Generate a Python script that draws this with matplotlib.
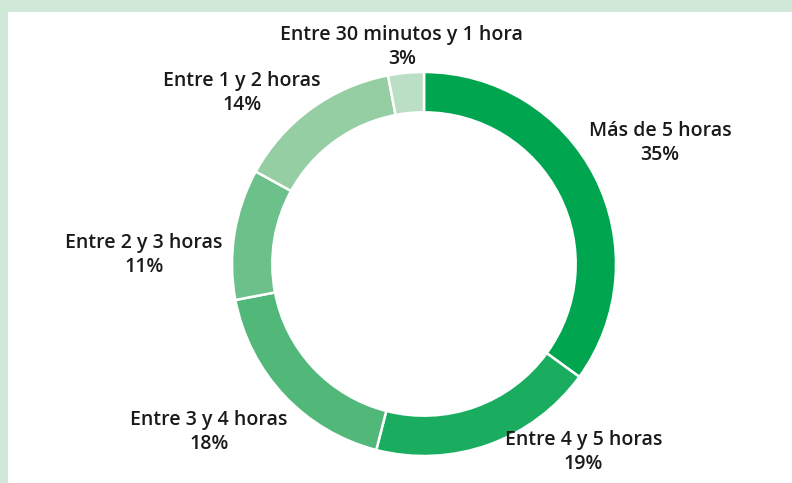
import matplotlib.pyplot as plt
from matplotlib.patches import Rectangle

# data
labels = ["Más de 5 horas", "Entre 4 y 5 horas", "Entre 3 y 4 horas",
          "Entre 2 y 3 horas", "Entre 1 y 2 horas", "Entre 30 minutos y 1 hora"]
values = [35, 19, 18, 11, 14, 3]
colors = ["#00a54f", "#1aad5f", "#52b879", "#6cc089", "#95cea3", "#badfc5"]

# label offsets (in units of the outer radius, from the centre)
label_pos = [(1.23, 0.63), (0.83, -0.98), (-1.12, -0.875),
             (-1.46, 0.047), (-0.95, 0.89), (-0.115, 1.13)]

W, H = 792, 483
fig = plt.figure(figsize=(W / 100, H / 100), dpi=100)
fig.patch.set_facecolor("#d0e8d7")
ax = fig.add_axes([0, 0, 1, 1])

# white panel inside the green frame
ax.add_patch(Rectangle((8, 0), W - 8, H - 12, facecolor="white", edgecolor="none", zorder=0))

cx, cy, r = 424, 219, 192
ax.pie(values, colors=colors, startangle=90, counterclock=False,
       center=(cx, cy), radius=r, frame=True,
       wedgeprops=dict(width=r * 0.21, edgecolor="white", linewidth=1.8))
ax.set_xlim(0, W)
ax.set_ylim(0, H)
ax.axis("off")

for lab, v, (dx, dy) in zip(labels, values, label_pos):
    ax.text(cx + dx * r, cy + dy * r, f"{lab}\n{v}%", ha="center", va="center",
            fontsize=14, fontweight="semibold", family=["Open Sans", "DejaVu Sans"],
            color="#1a1a1a", linespacing=1.3)

fig.savefig("out.png", dpi=100, facecolor=fig.get_facecolor())
